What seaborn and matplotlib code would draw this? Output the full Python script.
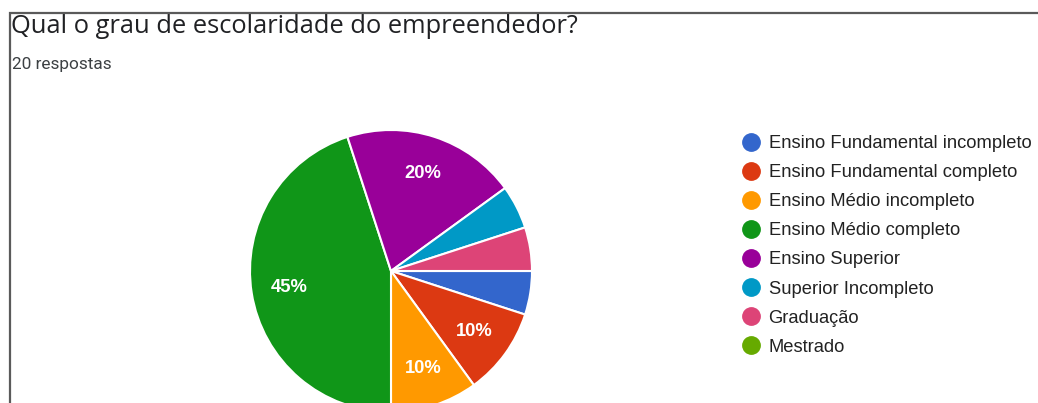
import matplotlib
matplotlib.use("Agg")
import matplotlib.pyplot as plt
from matplotlib.lines import Line2D
from matplotlib.patches import Rectangle
import seaborn as sns

# Survey answers: education level of the entrepreneur (20 responses)
categories = [
    "Ensino Fundamental incompleto",
    "Ensino Fundamental completo",
    "Ensino Médio incompleto",
    "Ensino Médio completo",
    "Ensino Superior",
    "Superior Incompleto",
    "Graduação",
    "Mestrado",
]
counts = [1, 2, 2, 9, 4, 1, 1, 0]
title = "Qual o grau de escolaridade do empreendedor?"
subtitle = "20 respostas"

colors = sns.color_palette([
    "#3366CC", "#DC3912", "#FF9900", "#109618",
    "#990099", "#0099C6", "#DD4477", "#66AA00",
])

sns.set_theme(style="white")
plt.rcParams["font.family"] = ["Liberation Sans", "DejaVu Sans"]

W, H = 1038, 403
fig = plt.figure(figsize=(W / 100, H / 100), dpi=100)
fig.patch.set_facecolor("white")
ax = fig.add_axes([0, 0, 1, 1])

# pie placed in pixel-like units (y measured upward from the bottom)
nonzero = [(c, col) for c, col in zip(counts, colors) if c > 0]
vals = [c for c, _ in nonzero]
cols = [col for _, col in nonzero]


def pct_label(p):
    return f"{p:.0f}%" if p >= 7.5 else ""


wedges, texts, autotexts = ax.pie(
    vals,
    colors=cols,
    startangle=0,
    counterclock=False,
    center=(391, H - 271),
    radius=141,
    autopct=pct_label,
    pctdistance=0.73,
    wedgeprops=dict(edgecolor="white", linewidth=1.5),
    textprops=dict(color="white", fontsize=13.2, fontweight="bold",
                   family=["Liberation Sans", "DejaVu Sans"]),
)

ax.set_xlim(0, W)
ax.set_ylim(0, H)
ax.set_aspect("equal")
ax.axis("off")

# card border (top and left edges)
ax.add_patch(Rectangle((9.5, -20), W + 20, H - 13 + 20, fill=False,
                       edgecolor="#5a5a5a", linewidth=1.6, zorder=5))

ax.text(11, H - 33, title, fontsize=18.4, color="#202124",
        family=["Open Sans", "DejaVu Sans"], va="baseline", ha="left")
ax.text(11.5, H - 68.5, subtitle, fontsize=12.4, color="#3c4043",
        family=["Roboto", "DejaVu Sans"], va="baseline", ha="left")

handles = [Line2D([], [], marker="o", linestyle="", markersize=12.5,
                  markerfacecolor=c, markeredgecolor=c) for c in colors]
leg = ax.legend(
    handles, categories,
    loc="upper left",
    bbox_to_anchor=(742, H - 135),
    bbox_transform=ax.transData,
    frameon=False,
    fontsize=13.2,
    handlelength=1.0,
    handletextpad=0.45,
    labelspacing=0.66,
    borderpad=0,
    borderaxespad=0,
)
for t in leg.get_texts():
    t.set_color("#222222")

fig.savefig("out.png", dpi=100, facecolor="white")
